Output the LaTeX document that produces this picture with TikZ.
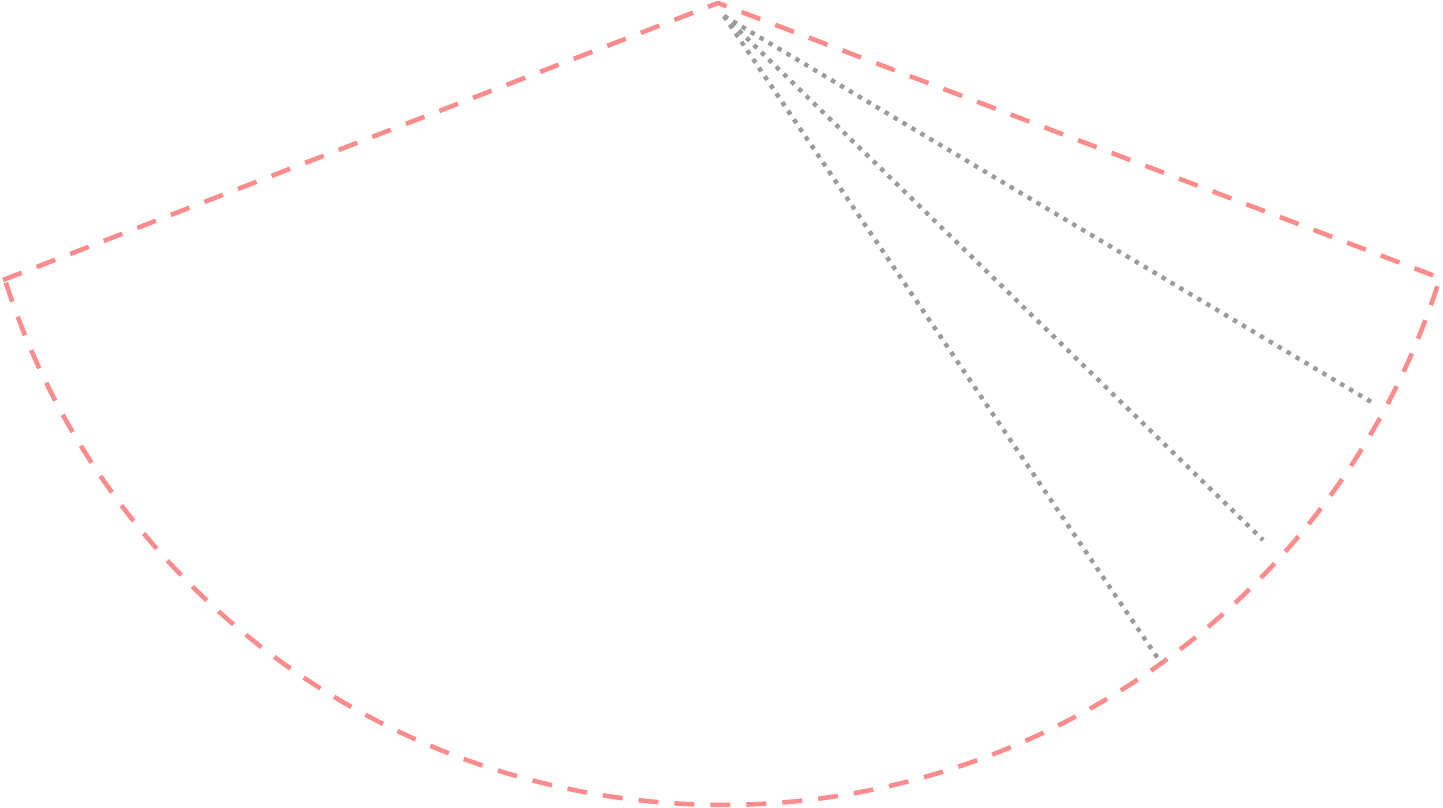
\documentclass[tikz,border=0pt]{standalone}
\usepackage{tikz}

\definecolor{sectorred}{RGB}{255,140,140}
\definecolor{rulegray}{RGB}{155,155,155}

\tikzset{
    sector/.style={draw=sectorred, line width=4.6pt, dash pattern=on 20pt off 16pt, line join=round},
    scanline/.style={draw=rulegray, line width=4.4pt, dash pattern=on 4.4pt off 6pt}
}

\begin{document}
\begin{tikzpicture}[x=1pt, y=1pt]
    \useasboundingbox (0,0) rectangle (1443,808);

    % First, locate each of the points and name them
    \coordinate (apex)  at (718,805);
    \coordinate (left)  at (3,528);
    \coordinate (right) at (1440,530);
    \coordinate (top)   at (724,792);
    \coordinate (far)   at (1373,405);
    \coordinate (mid)   at (1263,268);
    \coordinate (near)  at (1161,145);

    % Now draw the outline of the sector:
    \draw [sector] (left) -- (apex) -- (right)
        arc [start angle=342.54, end angle=197.68, radius=752.5] -- cycle;

    % and the scan lines:
    \draw [scanline] (top) -- (far);
    \draw [scanline] (top) -- (mid);
    \draw [scanline] (top) -- (near);
\end{tikzpicture}
\end{document}
